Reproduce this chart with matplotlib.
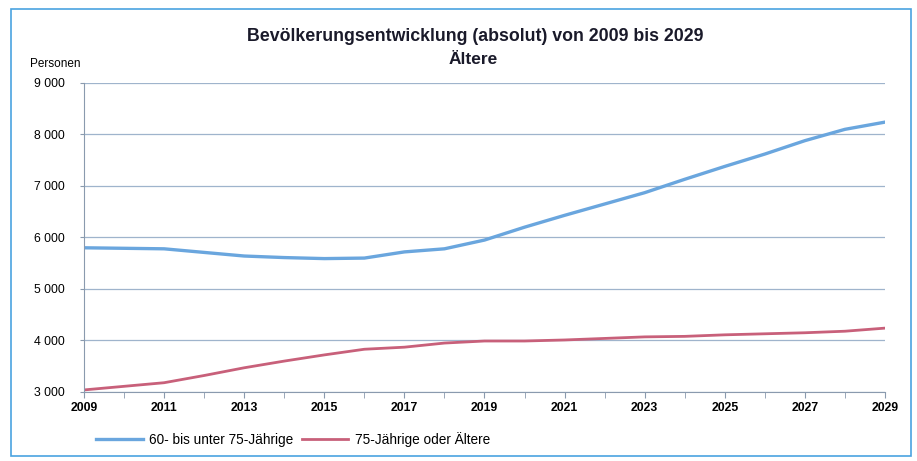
import matplotlib.pyplot as plt
from matplotlib.patches import Rectangle
from matplotlib.ticker import FuncFormatter, MultipleLocator

plt.rcParams["font.family"] = ["Liberation Sans", "DejaVu Sans"]

years = list(range(2009, 2030))
age_60_75 = [5800, 5790, 5780, 5710, 5640, 5610, 5590, 5600, 5720, 5780, 5950,
             6200, 6430, 6650, 6870, 7130, 7380, 7620, 7880, 8100, 8240]
age_75_plus = [3040, 3110, 3180, 3320, 3470, 3600, 3720, 3830, 3870, 3950, 3990,
               3990, 4010, 4040, 4070, 4080, 4110, 4130, 4150, 4180, 4240]
yticks = [3000, 4000, 5000, 6000, 7000, 8000, 9000]
xticks = list(range(2009, 2030, 2))

fig = plt.figure(figsize=(9.17, 4.61), dpi=100)
ax = fig.add_axes([0.0916, 0.1497, 0.8735, 0.6703])

ax.plot(years, age_60_75, color="#6aa6de", lw=2.4, label="60- bis unter 75-Jährige")
ax.plot(years, age_75_plus, color="#c8607a", lw=2.0, label="75-Jährige oder Ältere")

ax.set_xlim(2009, 2029)
ax.set_ylim(3000, 9000)
ax.set_yticks(yticks)
ax.yaxis.set_major_formatter(FuncFormatter(lambda v, p: f"{int(v):,}".replace(",", " ")))
ax.set_xticks(xticks)
ax.xaxis.set_minor_locator(MultipleLocator(1))
ax.grid(axis="y", color="#9fb4cc", lw=0.9)
ax.set_axisbelow(True)

for s in ["top", "right"]:
    ax.spines[s].set_visible(False)
for s in ["left", "bottom"]:
    ax.spines[s].set_color("#8a9aae")

ax.tick_params(axis="y", labelsize=8.8, length=3, color="#8a9aae", pad=11)
ax.tick_params(axis="x", which="both", direction="out", color="#8a9aae", length=4)
for lbl in ax.get_xticklabels():
    lbl.set_fontweight("bold")
    lbl.set_fontsize(8.8)

fig.text(0.518, 0.92, "Bevölkerungsentwicklung (absolut) von 2009 bis 2029",
         ha="center", va="center", fontsize=12.8, fontweight="bold", color="#1a1a2a")
fig.text(0.516, 0.872, "Ältere", ha="center", va="center",
         fontsize=12.5, fontweight="bold", color="#1a1a2a")
fig.text(0.033, 0.862, "Personen", ha="left", va="center", fontsize=8.5)

ax.legend(loc="upper left", bbox_to_anchor=(0.0, -0.09), ncol=2, frameon=False,
          fontsize=9.8, handlelength=3.4, columnspacing=0.6, handletextpad=0.5)

fig.patches.append(Rectangle((0.012, 0.01), 0.982, 0.97, transform=fig.transFigure,
                             fill=False, edgecolor="#4aa3e0", lw=1.2))

fig.savefig("out.png", dpi=100)
